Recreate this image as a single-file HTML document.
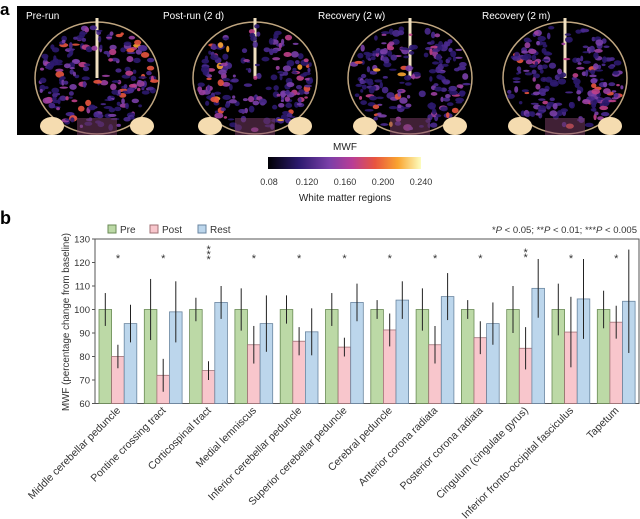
<!DOCTYPE html>
<html><head><meta charset="utf-8"><style>
body{margin:0;background:#fff;}
svg{display:block;font-family:"Liberation Sans",sans-serif;}
</style></head><body>
<svg id="s" width="640" height="519" xmlns="http://www.w3.org/2000/svg">
<defs>
<linearGradient id="cb" x1="0" x2="1">
<stop offset="0" stop-color="#000004"/><stop offset="0.2" stop-color="#2c1a6e"/><stop offset="0.4" stop-color="#7a3fa8"/><stop offset="0.55" stop-color="#b83d96"/><stop offset="0.7" stop-color="#e8553f"/><stop offset="0.85" stop-color="#f9a531"/><stop offset="1" stop-color="#fcfdbf"/>
</linearGradient>
</defs>
<rect x="17" y="6" width="623" height="129" fill="#000"/>
<g id="brains"></g>
<g fill="#fff" font-size="10">
<text x="26" y="19">Pre-run</text><text x="163" y="19">Post-run (2 d)</text><text x="318" y="19">Recovery (2 w)</text><text x="482" y="19">Recovery (2 m)</text>
</g>
<text x="0" y="15" font-size="17" font-weight="bold">a</text>
<text x="345" y="150" font-size="10" text-anchor="middle" fill="#222">MWF</text>
<rect x="268" y="157" width="153" height="12" fill="url(#cb)"/>
<g font-size="9" fill="#333" text-anchor="middle">
<text x="269" y="185">0.08</text><text x="307" y="185">0.120</text><text x="345" y="185">0.160</text><text x="383" y="185">0.200</text><text x="421" y="185">0.240</text>
</g>
<text x="345" y="201" font-size="10" text-anchor="middle" fill="#222">White matter regions</text>
<text x="0" y="224" font-size="18" font-weight="bold">b</text>
<g font-size="10" fill="#333">
<rect x="108" y="225" width="8" height="8" fill="#bcd9a6" stroke="#6a8a55"/><text x="120" y="233">Pre</text>
<rect x="150" y="225" width="8" height="8" fill="#f8c6cc" stroke="#a07075"/><text x="162" y="233">Post</text>
<rect x="198" y="225" width="8" height="8" fill="#bcd6ec" stroke="#6a85a0"/><text x="210" y="233">Rest</text>
<text x="637" y="233" text-anchor="end" font-size="9.5">*<tspan font-style="italic">P</tspan> &lt; 0.05; **<tspan font-style="italic">P</tspan> &lt; 0.01; ***<tspan font-style="italic">P</tspan> &lt; 0.005</text>
</g>
<g id="chart"></g>
<text transform="translate(69,322) rotate(-90)" font-size="9.8" fill="#333" text-anchor="middle">MWF (percentage change from baseline)</text>
</svg>
<script>
var NS="http://www.w3.org/2000/svg";
function el(p,t,a,txt){var e=document.createElementNS(NS,t);for(var k in a)e.setAttribute(k,a[k]);if(txt)e.textContent=txt;p.appendChild(e);return e;}
var seed=7;function r(){seed=(seed*16807)%2147483647;return seed/2147483647;}
var B=document.getElementById('brains');
var cols=["#2c1a6e","#4a2a8e","#7a3fa8","#9b3fa0","#c0408a","#e8553f","#f9a531"];
[97,255,410,565].forEach(function(cx,bi){
 var cy=78;
 el(B,'ellipse',{cx:cx,cy:cy,rx:62,ry:56,fill:'none',stroke:'#f0d0a0','stroke-width':1.5,opacity:0.8});
 el(B,'rect',{x:cx-1.5,y:18,width:3,height:60,fill:'#f0e0c0'});
 for(var i=0;i<260;i++){var a=r()*6.283,d=Math.sqrt(r());var x=cx+Math.cos(a)*d*58,y=cy+Math.sin(a)*d*52;
  var ci=Math.floor(r()*r()*7);if(Math.abs(x-cx)<20&&r()<0.5)continue;
  el(B,'ellipse',{cx:x,cy:y,rx:1.5+r()*3,ry:1+r()*2.5,fill:cols[ci],opacity:0.9});}
 el(B,'ellipse',{cx:cx-45,cy:126,rx:12,ry:9,fill:'#f5dcb0'});
 el(B,'ellipse',{cx:cx+45,cy:126,rx:12,ry:9,fill:'#f5dcb0'});
 el(B,'rect',{x:cx-20,y:118,width:40,height:17,fill:'#80406a',opacity:0.5});
});
var C=document.getElementById('chart');
function Y(v){return 403.5-(v-60)*2.35;}
el(C,'rect',{x:95,y:239,width:544,height:164.5,fill:'none',stroke:'#555','stroke-width':1});
for(var v=60;v<=130;v+=10){el(C,'line',{x1:92,x2:95,y1:Y(v),y2:Y(v),stroke:'#555'});el(C,'text',{x:90,y:Y(v)+3.5,'font-size':9.5,fill:'#333','text-anchor':'end'},String(v));}
var D=[[100,7,80,5,94,8],[100,13,72,7,99,13],[100,5,74,4,103,7],[100,9,85,8,94,12],[100,6,86.5,6,90.5,10],[100,7,84,4,103,8],[100,4,91.3,7,104,8],[100,9,85,8,105.5,10],[100,4,88,7,94,9],[100,10,83.5,9,109,12.5],[100,11,90.4,15,104.5,17],[100,8,94.6,7,103.5,22]];
var stars=["*","*","***","*","*","*","*","*","*","**","*","*"];
var names=["Middle cerebellar peduncle","Pontine crossing tract","Corticospinal tract","Medial lemniscus","Inferior cerebellar peduncle","Superior cerebellar peduncle","Cerebral peduncle","Anterior corona radiata","Posterior corona radiata","Cingulum (cingulate gyrus)","Inferior fronto-occipital fasciculus","Tapetum"];
var fills=[["#bcd9a6","#6a8a55"],["#f8c6cc","#a07075"],["#bcd6ec","#6a85a0"]];
D.forEach(function(d,g){var x0=99+g*45.3;
 for(var k=0;k<3;k++){var x=x0+k*12.6,v=d[k*2],e=d[k*2+1];
  el(C,'rect',{x:x,y:Y(v),width:12.6,height:403.5-Y(v),fill:fills[k][0],stroke:fills[k][1],'stroke-width':0.8});
  el(C,'line',{x1:x+6.3,x2:x+6.3,y1:Y(v+e),y2:Y(v-e),stroke:'#222','stroke-width':1});}
 var cx=x0+19;
 var s=stars[g];
 if(s.length==1)el(C,'text',{x:cx,y:262,'font-size':11,fill:'#333','text-anchor':'middle'},"*");
 else for(var i=0;i<s.length;i++)el(C,'text',{x:cx,y:256+i*5-(s.length-2)*3,'font-size':11,fill:'#333','text-anchor':'middle'},"*");
 el(C,'text',{transform:'translate('+(cx+3)+',411) rotate(-45)','font-size':10.5,fill:'#333','text-anchor':'end'},names[g]);
});
</script>
</body></html>
